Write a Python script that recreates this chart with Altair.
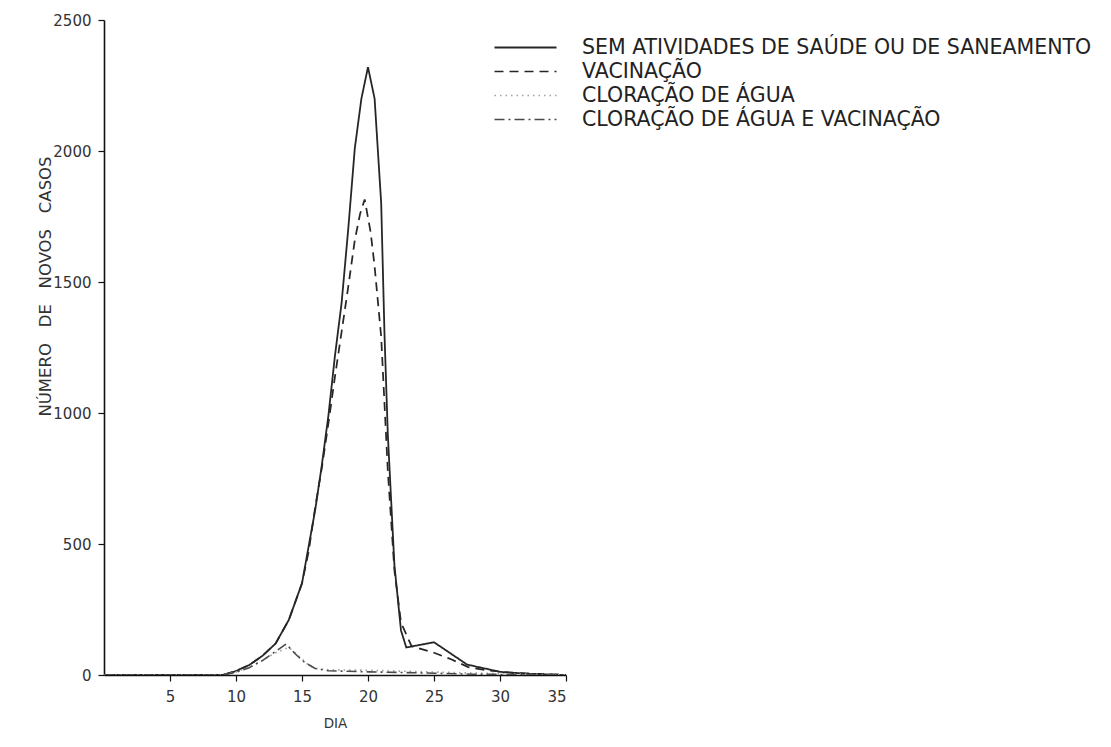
import altair as alt
import pandas as pd

# ---- data ----
series_names = [
    "SEM ATIVIDADES DE SAÚDE OU DE SANEAMENTO",
    "VACINAÇÃO",
    "CLORAÇÃO DE ÁGUA",
    "CLORAÇÃO DE ÁGUA E VACINAÇÃO",
]

sem_dias = [0, 5, 9, 10, 11, 12, 13, 14, 15, 16, 16.5, 17, 17.5, 18, 18.5, 19, 19.5, 20,
            20.5, 21, 21.25, 21.5, 22, 22.5, 22.9, 25, 27.5, 30, 32, 35]
sem_casos = [0, 0, 0, 15, 38, 73, 120, 210, 350, 630, 800, 990, 1220, 1420, 1700, 2010, 2200, 2320,
             2200, 1800, 1300, 920, 420, 170, 105, 125, 40, 12, 5, 0]

vac_dias = [0, 9, 10, 11, 12, 13, 14, 15, 15.5, 16, 16.5, 17, 17.5, 18, 18.5, 19, 19.4, 19.75,
            20.2, 20.5, 21, 21.5, 22, 22.5, 23.3, 25, 26.3, 27.6, 29, 31, 35]
vac_casos = [0, 0, 15, 38, 73, 120, 210, 350, 470, 640, 790, 960, 1140, 1310, 1480, 1660, 1760, 1815,
             1690, 1560, 1290, 780, 400, 200, 110, 85, 60, 30, 18, 8, 0]

clo_dias = [0, 9, 10, 11, 12, 13, 14, 14.7, 15.4, 16, 17, 20, 23, 26, 30, 35]
clo_casos = [0, 0, 12, 30, 55, 85, 105, 75, 42, 25, 20, 18, 14, 10, 5, 0]

cv_dias = [0, 9, 10, 11, 12, 13, 13.8, 14.5, 15.2, 16, 17, 20, 24, 28, 35]
cv_casos = [0, 0, 10, 28, 55, 90, 118, 80, 48, 25, 16, 12, 8, 3, 0]

x_ticks = [5, 10, 15, 20, 25, 30, 35]
y_ticks = [0, 500, 1000, 1500, 2000, 2500]

gap = "\u00a0" * 3
y_title = gap.join(["NÚMERO", "DE", "NOVOS", "CASOS"])

# ---- styles ----
line_colors = ["#262626", "#262626", "#a0a0a0", "#4a4a4a"]
line_dashes = [[1, 0], [9, 6], [1.5, 4], [10, 4, 2, 4]]
line_widths = [1.8, 1.6, 1.5, 1.4]

rows = []
for i, (name, dias, casos) in enumerate(zip(
        series_names,
        [sem_dias, vac_dias, clo_dias, cv_dias],
        [sem_casos, vac_casos, clo_casos, cv_casos])):
    for d, c in zip(dias, casos):
        rows.append({"serie": name, "dia": d, "casos": c, "ordem": i})
df = pd.DataFrame(rows)

label_font = "DejaVu Sans"

legend_cfg = dict(
    orient="none", legendX=410, legendY=16, title=None,
    symbolType="M-3,0H3", symbolSize=427, symbolStrokeWidth=1.2,
    labelFont="DejaVu Sans", labelFontSize=20.5, labelColor="#222222",
    labelOffset=45, rowPadding=2, labelLimit=800,
)

chart = alt.Chart(df).mark_line(clip=True).encode(
    x=alt.X("dia:Q",
            scale=alt.Scale(domain=[0, 35], nice=False),
            axis=alt.Axis(values=x_ticks, title="DIA", grid=False, format="d",
                          domainColor="#111111", domainWidth=1.6,
                          tickColor="#111111", tickSize=6, tickWidth=1.2,
                          labelFont=label_font, labelFontSize=15, labelColor="#333333",
                          labelPadding=8, titleFont=label_font, titleFontSize=13.5,
                          titleFontWeight="normal", titleColor="#333333", titlePadding=12)),
    y=alt.Y("casos:Q",
            scale=alt.Scale(domain=[0, 2500], nice=False),
            axis=alt.Axis(values=y_ticks, title=y_title, grid=False,
                          format="d",
                          domainColor="#111111", domainWidth=1.6,
                          tickColor="#111111", tickSize=6, tickWidth=1.2,
                          labelFont=label_font, labelFontSize=15, labelColor="#333333",
                          labelPadding=7, titleFont=label_font, titleFontSize=16.5,
                          titleFontWeight="normal", titleColor="#333333",
                          titleX=-59, titleY=266, titleAngle=270,
                          titleAlign="center", titleBaseline="middle")),
    color=alt.Color("serie:N", scale=alt.Scale(domain=series_names, range=line_colors),
                    legend=alt.Legend(**legend_cfg)),
    strokeDash=alt.StrokeDash("serie:N", scale=alt.Scale(domain=series_names, range=line_dashes),
                              legend=alt.Legend(**legend_cfg)),
    strokeWidth=alt.StrokeWidth("serie:N", scale=alt.Scale(domain=series_names, range=line_widths),
                                legend=None),
    order=alt.Order("dia:Q"),
).properties(
    width=462, height=655,
    autosize="none",
    padding={"left": 96, "top": 12, "right": 530, "bottom": 60},
).configure_view(stroke=None)

chart.save("out.html", embed_options={"renderer": "svg", "actions": False})
